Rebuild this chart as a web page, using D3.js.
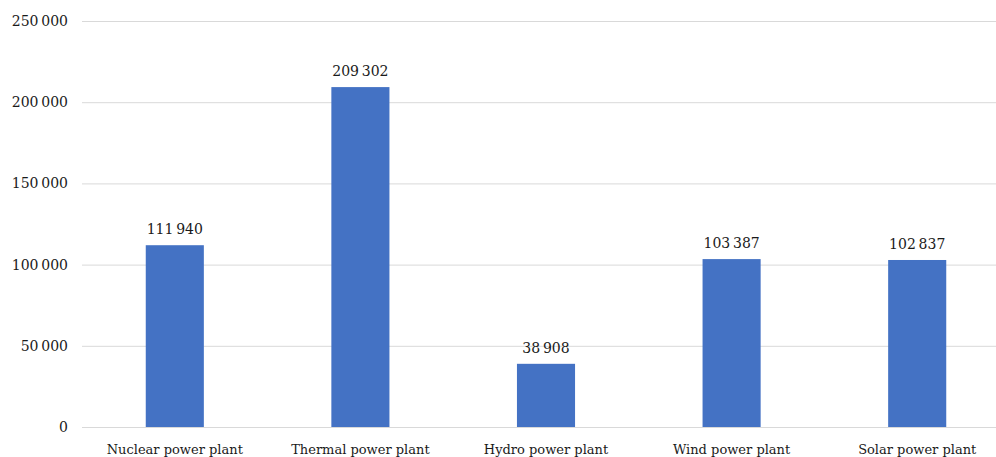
<!DOCTYPE html>
<html><head><meta charset="utf-8">
<script src="https://cdn.jsdelivr.net/npm/d3@7"></script>
<style>body{margin:0;background:#fff}svg{display:block}text{font-family:"DejaVu Serif",serif;fill:#1a1a1a}</style>
</head><body><svg id="c" width="996" height="457"></svg>
<script>
const categories = ["Nuclear power plant","Thermal power plant","Hydro power plant","Wind power plant","Solar power plant"];
const values = [111940, 209302, 38908, 103387, 102837];
const yTicks = [0, 50000, 100000, 150000, 200000, 250000];

const svg = d3.select("#c");
const fmt = d3.formatLocale({decimal:".", thousands:"\u2009", grouping:[3], currency:["",""]}).format(",d");
const x = d3.scaleBand().domain(categories).range([82, 1010]).paddingInner(0.687).paddingOuter(0.3435);
const y = d3.scaleLinear().domain([0, 250000]).range([427, 21]);

svg.append("g").selectAll("line").data(yTicks).join("line")
  .attr("x1", 82).attr("x2", 1010).attr("y1", d => y(d)+0.5).attr("y2", d => y(d)+0.5)
  .attr("stroke", "#d9d9d9").attr("stroke-width", 1);

svg.append("g").selectAll("text").data(yTicks).join("text")
  .attr("x", 68).attr("y", d => y(d)).attr("dy", "0.35em").attr("text-anchor", "end")
  .attr("font-size", 14).text(d => d === 0 ? "0" : fmt(d));

svg.append("g").selectAll("rect").data(values).join("rect")
  .attr("x", (d,i) => x(categories[i])).attr("width", x.bandwidth())
  .attr("y", d => y(d)).attr("height", d => y(0) - y(d)).attr("fill", "#4472C4");

svg.append("g").selectAll("text").data(values).join("text")
  .attr("x", (d,i) => x(categories[i]) + x.bandwidth()/2).attr("y", d => y(d) - 11)
  .attr("text-anchor", "middle").attr("font-size", 14).text(d => fmt(d));

svg.append("g").selectAll("text").data(categories).join("text")
  .attr("x", d => x(d) + x.bandwidth()/2).attr("y", 454)
  .attr("text-anchor", "middle").attr("font-size", 13).text(d => d);
</script></body></html>
